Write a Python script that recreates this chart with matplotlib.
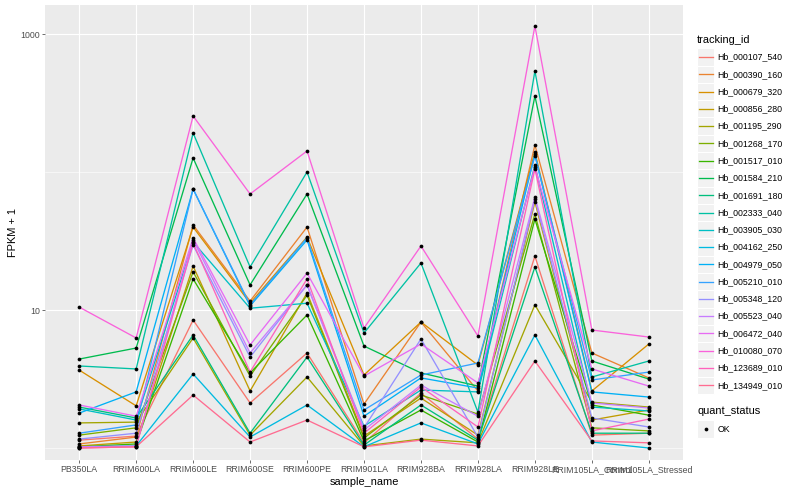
import numpy as np
import matplotlib
matplotlib.use("Agg")
import matplotlib.pyplot as plt
from matplotlib.patches import Rectangle
from matplotlib.lines import Line2D

plt.rcParams['font.family'] = ['Liberation Sans', 'DejaVu Sans']

samples = ["PB350LA", "RRIM600LA", "RRIM600LE", "RRIM600SE", "RRIM600PE",
           "RRIM901LA", "RRIM928BA", "RRIM928LA", "RRIM928LE",
           "RRIM105LA_Control", "RRIM105LA_Stressed"]

tracking_ids = ["Hb_000107_540", "Hb_000390_160", "Hb_000679_320", "Hb_000856_280",
                "Hb_001195_290", "Hb_001268_170", "Hb_001517_010", "Hb_001584_210",
                "Hb_001691_180", "Hb_002333_040", "Hb_003905_030", "Hb_004162_250",
                "Hb_004979_050", "Hb_005210_010", "Hb_005348_120", "Hb_005523_040",
                "Hb_006472_040", "Hb_010080_070", "Hb_123689_010", "Hb_134949_010"]

colors = ["#F8766D", "#EA8331", "#D89000", "#C09B00", "#A3A500", "#7CAE00",
          "#39B600", "#00BB4E", "#00BF7D", "#00C1A3", "#00BFC4", "#00BAE0",
          "#00B0F6", "#35A2FF", "#9590FF", "#C77CFF", "#E76BF3", "#FA62DB",
          "#FF62BC", "#FF6C91"]

# FPKM + 1 per sample (order of `samples`)
hb_000107_540 = [1.14, 1.22, 8.46, 2.12, 4.88, 1.09, 2.50, 1.16, 24.6, 1.24, 1.28]
hb_000390_160 = [1.07, 1.20, 41.3, 11.6, 39.9, 2.08, 8.18, 2.59, 157.0, 4.88, 3.22]
hb_000679_320 = [3.67, 2.02, 39.9, 11.2, 33.8, 3.38, 8.18, 3.99, 139.6, 2.59, 5.67]
hb_000856_280 = [1.035, 1.105, 20.8, 2.59, 13.3, 1.22, 2.30, 1.24, 60.6, 1.595, 1.885]
hb_001195_290 = [1.52, 1.54, 6.27, 1.24, 3.27, 1.035, 1.16, 1.09, 10.9, 2.15, 1.98]
hb_001268_170 = [1.24, 1.40, 18.9, 3.32, 12.8, 1.18, 2.42, 1.76, 49.6, 1.40, 1.33]
hb_001517_010 = [1.02, 1.07, 16.8, 3.50, 9.2, 1.125, 1.885, 1.105, 45.6, 2.05, 1.73]
hb_001584_210 = [4.41, 5.30, 126.3, 15.2, 69.3, 5.48, 3.50, 2.81, 355.0, 4.27, 3.16]
hb_001691_180 = [1.98, 1.65, 6.59, 1.28, 4.56, 1.05, 2.05, 1.14, 20.5, 1.28, 1.28]
hb_002333_040 = [3.93, 3.74, 191.7, 20.5, 100.0, 6.81, 21.9, 1.82, 539.0, 3.27, 4.27]
hb_003905_030 = [1.92, 1.595, 31.1, 10.3, 11.2, 1.44, 2.63, 2.55, 112.4, 1.98, 1.855]
hb_004162_250 = [1.02, 1.035, 3.44, 1.20, 2.05, 1.02, 1.52, 1.07, 6.59, 1.105, 1.0]
hb_004979_050 = [1.79, 2.55, 75.3, 10.7, 32.2, 1.70, 3.22, 2.72, 135.0, 2.55, 2.34]
hb_005210_010 = [1.28, 1.47, 75.3, 10.9, 33.3, 1.885, 3.38, 4.13, 130.6, 3.11, 3.55]
hb_005348_120 = [1.16, 1.28, 29.6, 4.56, 15.2, 1.40, 6.17, 1.20, 63.7, 1.65, 1.42]
hb_005523_040 = [1.02, 1.035, 32.2, 4.88, 15.2, 1.35, 2.86, 1.70, 65.9, 2.12, 1.95]
hb_006472_040 = [2.05, 1.70, 33.3, 5.58, 18.5, 3.32, 5.67, 2.96, 108.7, 3.74, 2.81]
hb_010080_070 = [10.5, 6.27, 254.5, 69.3, 142.0, 7.40, 29.1, 6.48, 1143.0, 7.16, 6.37]
hb_123689_010 = [1.0, 1.02, 30.6, 3.55, 16.8, 1.28, 2.77, 1.42, 105.1, 1.33, 1.62]
hb_134949_010 = [1.0, 1.02, 2.42, 1.105, 1.595, 1.02, 1.14, 1.035, 4.27, 1.125, 1.09]

series = [hb_000107_540, hb_000390_160, hb_000679_320, hb_000856_280, hb_001195_290,
          hb_001268_170, hb_001517_010, hb_001584_210, hb_001691_180, hb_002333_040,
          hb_003905_030, hb_004162_250, hb_004979_050, hb_005210_010, hb_005348_120,
          hb_005523_040, hb_006472_040, hb_010080_070, hb_123689_010, hb_134949_010]

quant_status = ["OK"]

W, H = 800, 500
fig = plt.figure(figsize=(8, 5), dpi=100)
px_left, px_right, px_top, px_bottom = 45, 683, 5, 460
ax = fig.add_axes([px_left / W, 1 - px_bottom / H, (px_right - px_left) / W,
                   (px_bottom - px_top) / H])
ax.set_facecolor("#EBEBEB")
for s in ax.spines.values():
    s.set_visible(False)

x = np.arange(len(samples))
for vals, col in zip(series, colors):
    ax.plot(x, vals, color=col, lw=0.95, zorder=3, solid_capstyle='butt')
for vals in series:
    ax.plot(x, vals, linestyle='none', marker='o', ms=2.7, color='black',
            markeredgewidth=0, zorder=4)

ax.set_yscale('log')
ax.set_ylim(10 ** (1 - 150 / 138), 10 ** (1 + 305 / 138))
ax.set_xlim(-0.6, len(samples) - 1 + 0.6)
ax.set_yticks([10, 1000])
ax.set_yticklabels(["10", "1000"])
ax.set_yticks([1, 100], minor=True)
ax.yaxis.set_minor_formatter(matplotlib.ticker.NullFormatter())
ax.set_xticks(x)
ax.set_xticklabels(samples)
ax.tick_params(which='major', length=2.0, width=0.5, color='#333333',
               labelsize=6.3, labelcolor='#4D4D4D', pad=1.6)
ax.tick_params(which='minor', length=0)
ax.grid(which='major', color='white', lw=0.8, zorder=0)
ax.grid(which='minor', axis='y', color='white', lw=0.4, zorder=0)
ax.set_axisbelow(True)
ax.set_xlabel("sample_name", fontsize=7.9, labelpad=2.5)
ax.set_ylabel("FPKM + 1", fontsize=7.9, labelpad=2)

# Legend drawn in pixel space
lg = fig.add_axes([0, 0, 1, 1], facecolor='none')
lg.set_xlim(0, W)
lg.set_ylim(H, 0)
lg.axis('off')
lg.text(697, 40, "tracking_id", fontsize=7.9, va='center', ha='left')
key_x, key_w, key_h = 697, 17.28, 17.28
y0 = 57
for i, (tid, col) in enumerate(zip(tracking_ids, colors)):
    yc = y0 + i * key_h
    lg.add_patch(Rectangle((key_x, yc - key_h / 2), key_w, key_h,
                           facecolor='#F2F2F2', edgecolor='white', lw=0.8))
    lg.add_line(Line2D([key_x + 1.7, key_x + key_w - 1.7], [yc, yc], color=col, lw=0.95))
    lg.text(key_x + key_w + 3, yc, tid, fontsize=6.3, va='center', ha='left')

lg.text(697, 411.5, "quant_status", fontsize=7.9, va='center', ha='left')
yc = 429
lg.add_patch(Rectangle((key_x, yc - key_h / 2), key_w, key_h,
                       facecolor='#F2F2F2', edgecolor='white', lw=0.8))
lg.plot([key_x + key_w / 2], [yc], marker='o', ms=2.7, color='black', markeredgewidth=0)
lg.text(key_x + key_w + 3, yc, quant_status[0], fontsize=6.3, va='center', ha='left')

fig.savefig("out.png", dpi=100)
